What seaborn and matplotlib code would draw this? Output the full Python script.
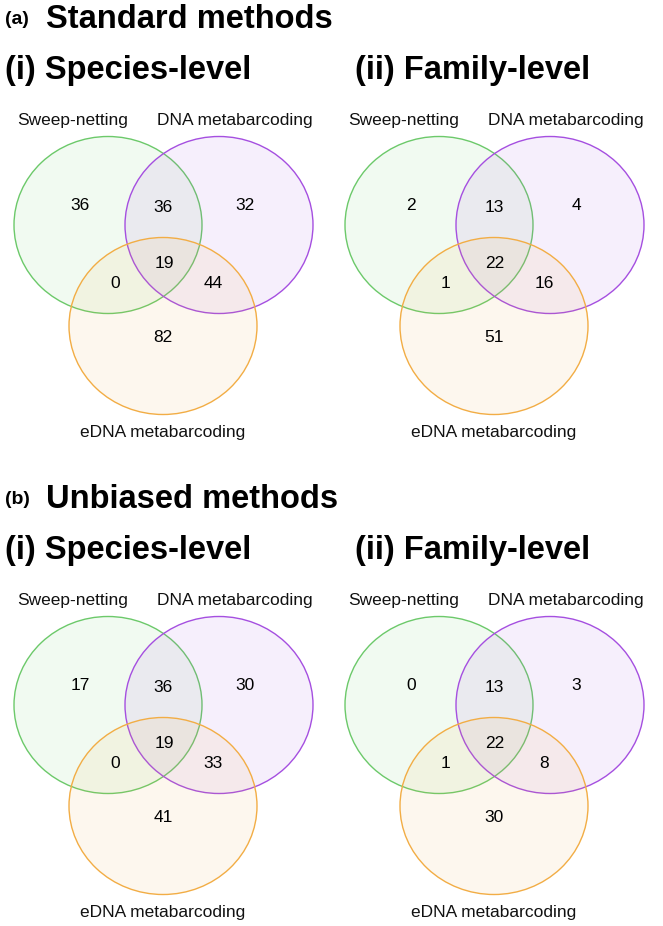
import matplotlib
matplotlib.use("Agg")
import matplotlib.pyplot as plt
from matplotlib.patches import Ellipse
import seaborn as sns

# Venn region counts, order: S only, S&D, D only, all three, S&E, D&E, E only
species_std = [36, 36, 32, 19, 0, 44, 82]
family_std = [2, 13, 4, 22, 1, 16, 51]
species_unb = [17, 36, 30, 19, 0, 33, 41]
family_unb = [0, 13, 3, 22, 1, 8, 30]

set_names = ["Sweep-netting", "DNA metabarcoding", "eDNA metabarcoding"]
section_titles = ["Standard methods", "Unbiased methods"]
section_tags = ["(a)", "(b)"]
panel_titles = ["(i) Species-level", "(ii) Family-level"]

sns.set_theme(style="white")
plt.rcParams['font.family'] = ['Liberation Sans', 'DejaVu Sans']
colors = ["#6cc96a", "#a54fe0", "#f2ad45"]

fig = plt.figure(figsize=(6.63, 9.26), dpi=100)
ax = fig.add_axes([0, 0, 1, 1])
ax.set_xlim(0, 663)
ax.set_ylim(926, 0)
ax.axis("off")

# circle centres relative to the Sweep-netting circle
offsets = [(0, 0), (111, 0), (55, 101)]
# label spots for each region, relative to the Sweep-netting circle
spots = [(-28, -19), (55, -18), (137, -19), (56, 38), (7, 58), (105, 58), (55, 112)]


def venn(cx, cy, counts):
    for (dx, dy), c in zip(offsets, colors):
        ax.add_patch(Ellipse((cx + dx, cy + dy), 188, 177, facecolor=c,
                             alpha=0.09, edgecolor="none"))
        ax.add_patch(Ellipse((cx + dx, cy + dy), 188, 177, facecolor="none",
                             edgecolor=c, lw=1.0))
    for (dx, dy), n in zip(spots, counts):
        ax.text(cx + dx, cy + dy, str(n), ha="center", va="center",
                fontsize=12.5, color="#000000")
    ax.text(cx - 35, cy - 104, set_names[0], ha="center", va="center",
            fontsize=12.5, color="#111111")
    ax.text(cx + 127, cy - 104, set_names[1], ha="center", va="center",
            fontsize=12.5, color="#111111")
    ax.text(cx + 55, cy + 208, set_names[2], ha="center", va="center",
            fontsize=12.5, color="#111111")


panels = [[species_std, family_std], [species_unb, family_unb]]
for row, y0 in enumerate([225, 705]):
    ax.text(5, y0 - 206, section_tags[row], ha="left", va="center",
            fontsize=14, fontweight="bold", color="black")
    ax.text(46, y0 - 205, section_titles[row], ha="left", va="center",
            fontsize=23.5, fontweight="bold", color="black")
    for col, x0 in enumerate([108, 439]):
        ax.text([5, 355][col], y0 - 154, panel_titles[col], ha="left",
                va="center", fontsize=23.5, fontweight="bold", color="black")
        venn(x0, y0, panels[row][col])

fig.savefig("out.png", dpi=100)
